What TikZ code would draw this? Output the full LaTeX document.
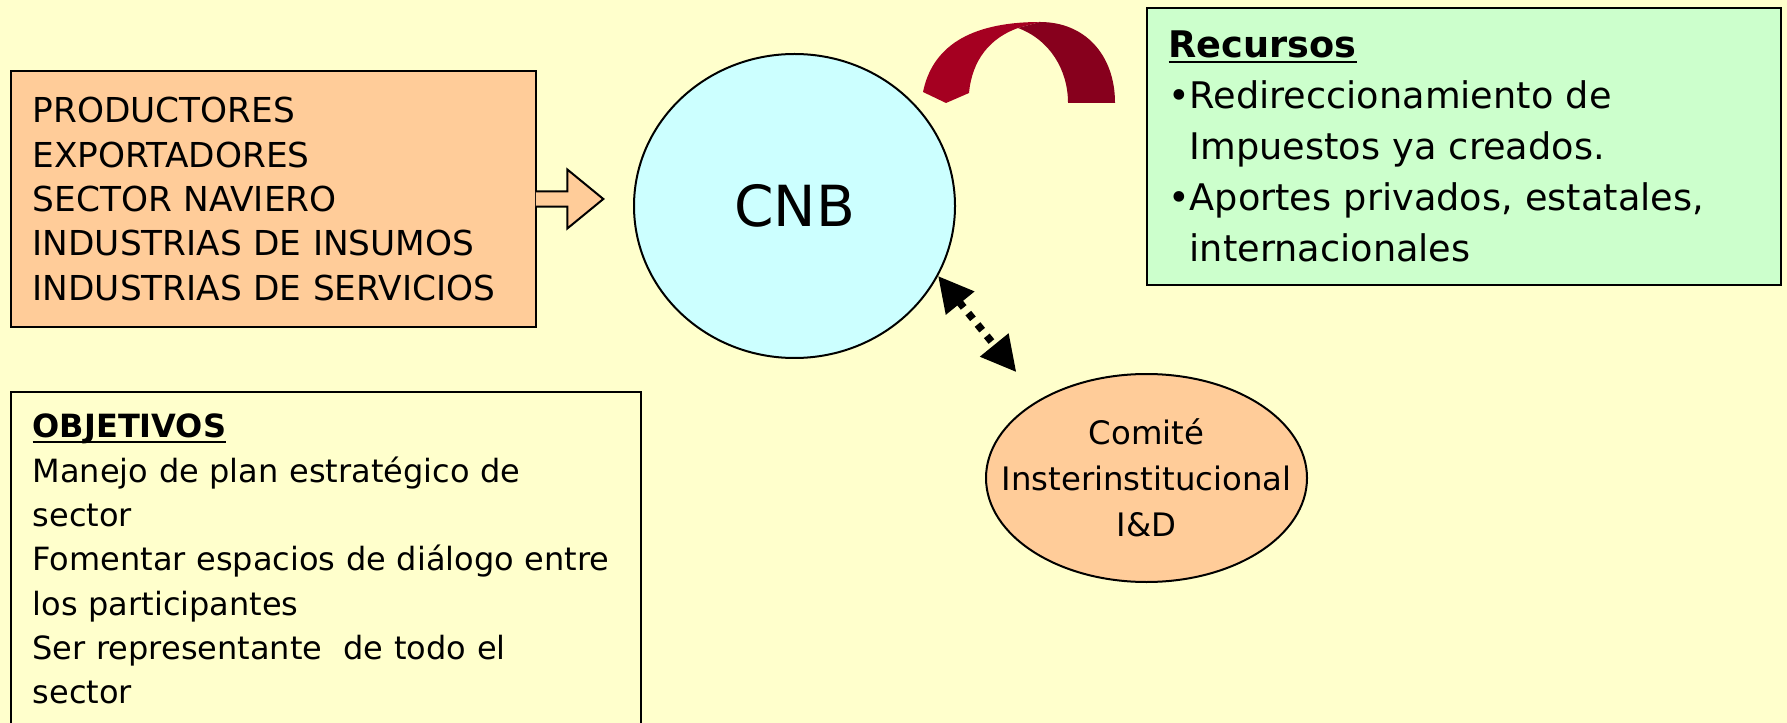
\documentclass[tikz,border=0pt]{standalone}
\usepackage{fontspec}
\setmainfont{DejaVu Sans}
\usetikzlibrary{arrows.meta,shapes.geometric}
\definecolor{fondo}{HTML}{FFFFCC}
\definecolor{naranja}{HTML}{FFCC99}
\definecolor{celeste}{HTML}{CCFFFF}
\definecolor{verde}{HTML}{CCFFCC}
\definecolor{rojo}{HTML}{A50021}
\definecolor{rojooscuro}{HTML}{87001D}
\newcommand{\subrayar}[1]{\setbox0\hbox{\textbf{#1}}\rlap{\rule[-1.7pt]{\wd0}{.8pt}}\box0}
\begin{document}
\begin{tikzpicture}[x=.3pt,y=-.3pt,
	caja/.style={draw,line width=.6pt,rectangle,align=left,anchor=north west,inner xsep=6.5pt},
	elipse/.style={draw,line width=.6pt,ellipse,inner sep=0pt,align=center},
	punta/.tip={Triangle[length=10.5pt,width=10.5pt]}]
\useasboundingbox (0,0) rectangle (1787,723);
\fill[fondo] (0,0) rectangle (1787,723);
\clip (0,0) rectangle (1787,723);
\node[caja,fill=naranja,text width=144.6pt,minimum height=76.8pt,
	font=\fontsize{10.3}{13.3}\selectfont] (prod) at (10,70)
	{PRODUCTORES\\EXPORTADORES\\SECTOR NAVIERO\\INDUSTRIAS DE INSUMOS\\INDUSTRIAS DE SERVICIOS};
\node[elipse,fill=celeste,minimum width=96.3pt,minimum height=91.2pt,
	font=\fontsize{17}{20}\selectfont] (cnb) at (794.5,206) {CNB};
\node[caja,fill=verde,text width=177.3pt,minimum height=83.1pt,
	font=\fontsize{11}{15.3}\selectfont] (rec) at (1146,7)
	{\subrayar{Recursos}\\
	\makebox[6.3pt][l]{•}Redireccionamiento de\\
	\hspace*{6.3pt}Impuestos ya creados.\\
	\makebox[6.3pt][l]{•}Aportes privados, estatales,\\
	\hspace*{6.3pt}internacionales};
\node[caja,fill=fondo,text width=176pt,inner ysep=6.6pt,
	font=\fontsize{9.6}{13.3}\selectfont] (obj) at (10,391)
	{\subrayar{OBJETIVOS}\\Manejo de plan estratégico de\\sector\\
	Fomentar espacios de diálogo entre\\los participantes\\
	Ser representante\ \ de todo el\\sector\\\mbox{}};
\node[elipse,fill=naranja,minimum width=96.3pt,minimum height=62.4pt,inner xsep=-10pt,
	font=\fontsize{9.7}{13.8}\selectfont] (com) at (1146.5,478)
	{Comité\\Insterinstitucional\\I\&D};
\filldraw[fill=naranja,line width=.6pt,shift={(prod.east)}]
	(-1.5,-7.7) -- (30,-7.7) -- (30,-29.5) -- (66,0) -- (30,29.5) -- (30,7.7) -- (-1.5,7.7);
\draw[line width=2.2pt,dash pattern=on 2.2pt off 2.2pt,punta-punta,shorten >=10.7pt]
	(cnb.-26.6) -- (com.144);
\fill[rojo] (946,103) -- (923,92) .. controls (932,48) and (968,22) .. (1040,22)
	-- (1018,28) .. controls (990,38) and (972,60) .. (969,93) -- cycle;
\fill[rojooscuro] (1040,22) .. controls (1085,22) and (1115,55) .. (1115,103)
	-- (1068,103) .. controls (1068,70) and (1050,40) .. (1018,28) -- cycle;
\end{tikzpicture}
\end{document}
